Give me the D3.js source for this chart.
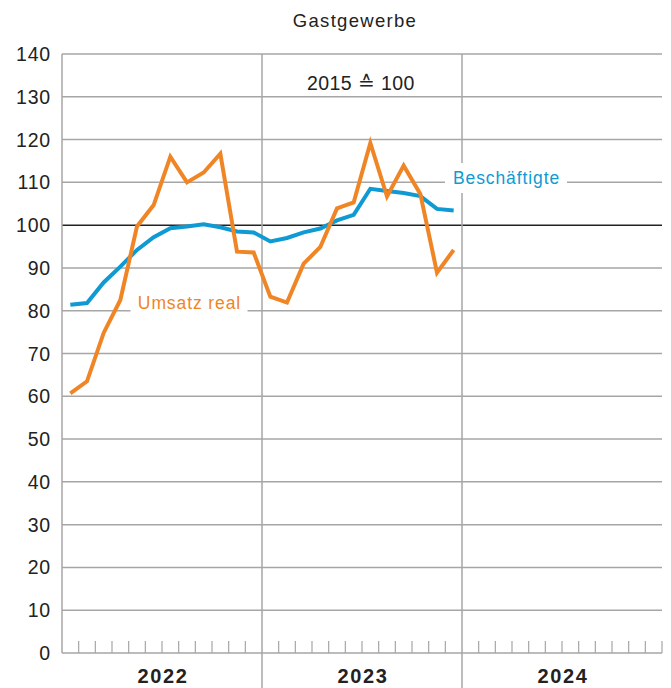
<!DOCTYPE html>
<html>
<head>
<meta charset="utf-8">
<script src="https://cdn.jsdelivr.net/npm/d3@7"></script>
<style>
  body { margin: 0; background: #fff; }
  text { font-family: "Liberation Sans", Arial, sans-serif; }
</style>
</head>
<body>
<svg id="chart" width="671" height="688"></svg>
<script>
const years = ["2022", "2023", "2024"];
const yTicks = [0, 10, 20, 30, 40, 50, 60, 70, 80, 90, 100, 110, 120, 130, 140];

// monthly index values, Jan 2022 - Dec 2023
const umsatzReal = [60.7, 63.5, 74.8, 82.5, 99.7, 104.7, 116.0, 110.0, 112.3, 116.7, 93.8, 93.6,
                    83.3, 81.9, 91.0, 94.9, 103.9, 105.3, 119.2, 106.7, 113.9, 107.3, 88.9, 94.2];
const beschaeftigte = [81.4, 81.8, 86.6, 90.3, 94.2, 97.2, 99.3, 99.7, 100.2, 99.5, 98.5, 98.3,
                       96.2, 97.0, 98.3, 99.2, 101.1, 102.4, 108.5, 108.0, 107.5, 106.8, 103.8, 103.4];

const width = 671, height = 688;
const margin = { top: 54, right: 9, bottom: 35, left: 62 };
const svg = d3.select("#chart");

const x = d3.scaleLinear().domain([0, years.length * 12]).range([margin.left, width - margin.right]);
const y = d3.scaleLinear().domain([0, 140]).range([height - margin.bottom, margin.top]);

const grey = "#a6a6a6";

// horizontal grid
svg.append("g")
  .selectAll("line")
  .data(yTicks)
  .join("line")
  .attr("x1", x(0)).attr("x2", x(36))
  .attr("y1", d => y(d)).attr("y2", d => y(d))
  .attr("stroke", d => d === 100 ? "#222" : grey)
  .attr("stroke-width", 1.5);

// left axis line
svg.append("line")
  .attr("x1", x(0)).attr("x2", x(0))
  .attr("y1", y(140)).attr("y2", y(0))
  .attr("stroke", grey).attr("stroke-width", 1.5);

// year separators (extend down through labels)
svg.append("g")
  .selectAll("line")
  .data([1, 2])
  .join("line")
  .attr("x1", d => x(d * 12)).attr("x2", d => x(d * 12))
  .attr("y1", y(140)).attr("y2", height)
  .attr("stroke", grey).attr("stroke-width", 1.5);

// month ticks
const months = d3.range(1, 36).filter(m => m % 12 !== 0);
svg.append("g")
  .selectAll("line")
  .data(months.concat([36]))
  .join("line")
  .attr("x1", d => x(d)).attr("x2", d => x(d))
  .attr("y1", y(0)).attr("y2", y(0) - 12)
  .attr("stroke", grey).attr("stroke-width", 1.2);

// y labels
svg.append("g")
  .selectAll("text")
  .data(yTicks)
  .join("text")
  .attr("x", 51)
  .attr("y", d => y(d) + 7)
  .attr("text-anchor", "end")
  .attr("font-size", 19.5)
  .attr("letter-spacing", 0.8)
  .attr("fill", "#222")
  .text(d => d);

// year labels
svg.append("g")
  .selectAll("text")
  .data(years)
  .join("text")
  .attr("x", (d, i) => x(i * 12 + 6) + 1)
  .attr("y", 683)
  .attr("text-anchor", "middle")
  .attr("font-size", 20)
  .attr("font-weight", "bold")
  .attr("letter-spacing", 1.6)
  .attr("fill", "#222")
  .text(d => d);

// title and note
svg.append("text")
  .attr("x", 355).attr("y", 27)
  .attr("text-anchor", "middle")
  .attr("font-size", 18.5)
  .attr("letter-spacing", 1.3)
  .attr("fill", "#222")
  .text("Gastgewerbe");

svg.append("text")
  .attr("x", 361).attr("y", 90)
  .attr("text-anchor", "middle")
  .attr("font-size", 19.5)
  .attr("letter-spacing", 0.4)
  .attr("fill", "#222")
  .text("2015 ≙ 100");

// series labels with white boxes
function label(txt, cx, cy, w, color) {
  svg.append("rect")
    .attr("x", cx - w / 2).attr("y", cy - 15)
    .attr("width", w).attr("height", 30)
    .attr("fill", "#fff");
  svg.append("text")
    .attr("x", cx + 0.5).attr("y", cy + 6)
    .attr("text-anchor", "middle")
    .attr("font-size", 17.5)
    .attr("letter-spacing", 0.9)
    .attr("fill", color)
    .text(txt);
}

const blue = "#0f9ad3", orange = "#f08526";

label("Beschäftigte", 506, 178, 122, blue);
label("Umsatz real", 189, 303, 117, orange);

const line = d3.line()
  .x((d, i) => x(i + 0.5))
  .y(d => y(d));

svg.append("path")
  .datum(beschaeftigte)
  .attr("d", line)
  .attr("fill", "none")
  .attr("stroke", blue)
  .attr("stroke-width", 4)
  .attr("stroke-linejoin", "miter");

svg.append("path")
  .datum(umsatzReal)
  .attr("d", line)
  .attr("fill", "none")
  .attr("stroke", orange)
  .attr("stroke-width", 4)
  .attr("stroke-linejoin", "miter");
</script>
</body>
</html>
